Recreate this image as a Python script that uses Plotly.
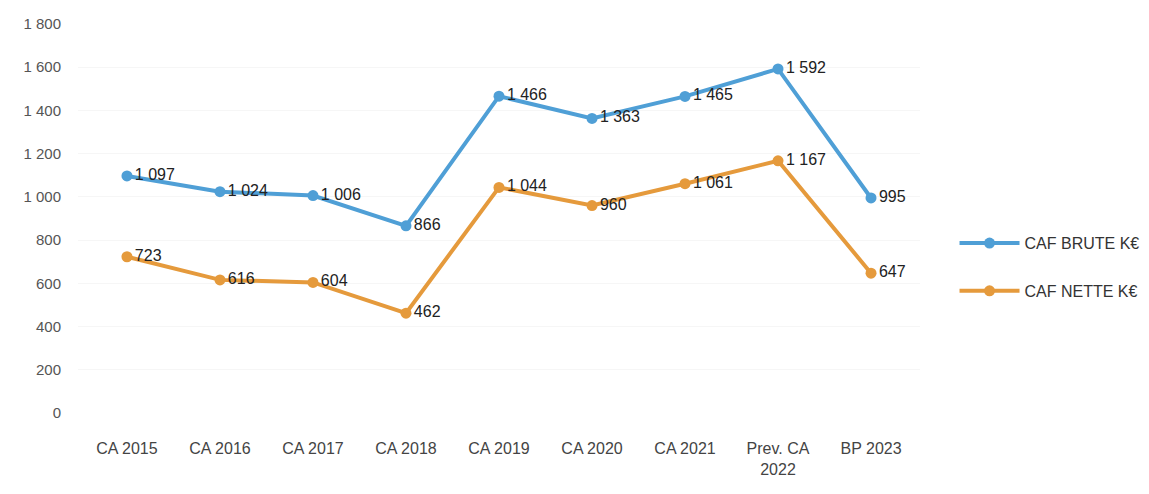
import plotly.graph_objects as go

annees = ['CA 2015', 'CA 2016', 'CA 2017', 'CA 2018', 'CA 2019', 'CA 2020',
          'CA 2021', 'Prev. CA<br>2022', 'BP 2023']
caf_brute = [1097, 1024, 1006, 866, 1466, 1363, 1465, 1592, 995]
caf_nette = [723, 616, 604, 462, 1044, 960, 1061, 1167, 647]


def fmt(v):
    return f'{v:,}'.replace(',', ' ')


police = 'Liberation Sans Narrow, Liberation Sans, Arial'

fig = go.Figure()
fig.add_trace(go.Scatter(
    x=annees, y=caf_brute, name='CAF BRUTE K€', legendgroup='brute',
    mode='lines+markers+text',
    text=[fmt(v) for v in caf_brute], textposition='middle right',
    line=dict(color='#4f9fd6', width=4),
    marker=dict(size=11, color='#4f9fd6'),
    textfont=dict(size=16, color='#222222'),
))
fig.add_trace(go.Scatter(
    x=annees, y=caf_nette, name='CAF NETTE K€', legendgroup='nette',
    mode='lines+markers+text',
    text=[fmt(v) for v in caf_nette], textposition='middle right',
    line=dict(color='#e59a3c', width=4),
    marker=dict(size=11, color='#e59a3c'),
    textfont=dict(size=16, color='#222222'),
))

fig.update_layout(
    width=1149, height=494,
    margin=dict(l=70, r=227, t=16, b=89),
    paper_bgcolor='white',
    plot_bgcolor='white',
    font=dict(family=police, size=14, color='#444444'),
    separators=', ',
    showlegend=True,
    legend=dict(x=1.041, y=0.375, yanchor='middle', xanchor='left',
                font=dict(size=16, color='#333333'), tracegroupgap=24,
                itemwidth=60),
    xaxis=dict(showgrid=False, showline=False, zeroline=False,
               ticks='', automargin=False, ticklabelstandoff=24,
               tickfont=dict(size=16, color='#444444')),
    yaxis=dict(range=[0, 1800], dtick=200, showgrid=True,
               gridcolor='#f6f6f6', zeroline=False, showline=False,
               ticks='', tickformat=',d', automargin=False,
               ticklabelstandoff=16,
               tickfont=dict(size=15, color='#555555')),
)

fig.write_html('out.html')
